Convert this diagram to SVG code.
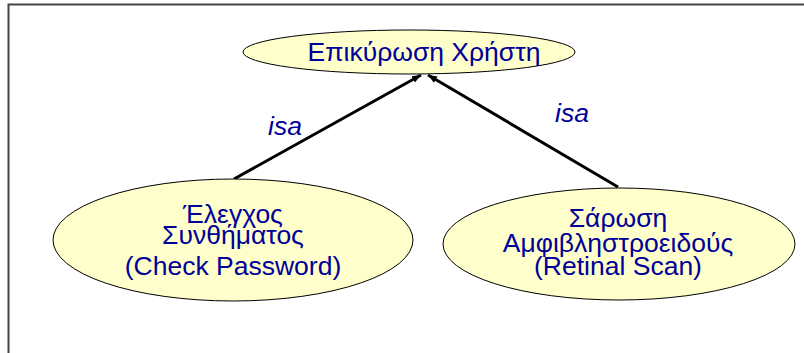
<svg xmlns="http://www.w3.org/2000/svg" width="804" height="353" viewBox="0 0 804 353">
<defs>
<marker id="ah" viewBox="0 0 10 10" refX="10" refY="5" markerWidth="9" markerHeight="9" markerUnits="userSpaceOnUse" orient="auto">
<path d="M0,1 L10,5 L0,9 Z" fill="#000"/>
</marker>
</defs>
<style>
.node ellipse{fill:#FFFFCC;stroke:#000;stroke-width:1}
.t{font-family:"Liberation Sans",Arial,sans-serif;font-size:26.5px;fill:#000099;text-anchor:middle}
.lbl{font-family:"Liberation Sans",Arial,sans-serif;font-size:26.5px;font-style:italic;fill:#000099;text-anchor:middle}
.edge{stroke:#000;stroke-width:3;fill:none}
</style>
<rect width="804" height="353" fill="#fff"/>
<path d="M8.5,353 V4.5 H804" fill="none" stroke="#444" stroke-width="2"/>
<g id="connectors">
<line class="edge" x1="234" y1="179" x2="421" y2="75" marker-end="url(#ah)"/>
<line class="edge" x1="618" y1="187" x2="428" y2="75" marker-end="url(#ah)"/>
<text class="lbl" x="285" y="135">isa</text>
<text class="lbl" x="572" y="122">isa</text>
</g>
<g id="user-auth" class="node">
<ellipse cx="409" cy="52" rx="166" ry="22"/>
<text class="t" x="424" y="61">Επικύρωση Χρήστη</text>
</g>
<g id="check-password" class="node">
<ellipse cx="233" cy="240" rx="180" ry="61"/>
<text class="t" x="233" y="223">Έλεγχος</text>
<text class="t" x="233" y="244">Συνθήματος</text>
<text class="t" x="233" y="275">(Check Password)</text>
</g>
<g id="retinal-scan" class="node">
<ellipse cx="619" cy="244" rx="176" ry="56"/>
<text class="t" x="618" y="227">Σάρωση</text>
<text class="t" x="618" y="252">Αμφιβληστροειδούς</text>
<text class="t" x="618" y="275">(Retinal Scan)</text>
</g>
</svg>
